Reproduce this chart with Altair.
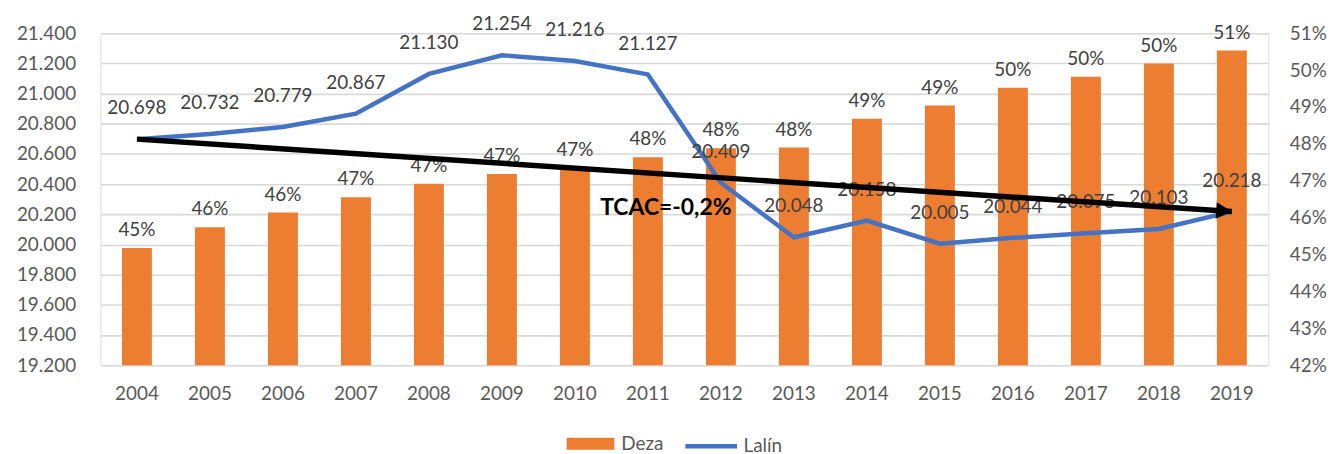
import altair as alt
import pandas as pd

# ---- data ----
years = [str(y) for y in range(2004, 2020)]
deza_share = [0.4518, 0.4574, 0.4614, 0.4655, 0.4692, 0.4718, 0.4734, 0.4764,
              0.4788, 0.4790, 0.4868, 0.4904, 0.4952, 0.4982, 0.5018, 0.5053]
lalin = [20698, 20732, 20779, 20867, 21130, 21254, 21216, 21127,
         20409, 20048, 20158, 20005, 20044, 20075, 20103, 20218]
left_ticks = [19200, 19400, 19600, 19800, 20000, 20200, 20400, 20600,
              20800, 21000, 21200, 21400]
right_ticks = [0.42, 0.43, 0.44, 0.45, 0.46, 0.47, 0.48, 0.49, 0.50, 0.51]
series_names = ["Deza", "Lalín"]
trend_label = "TCAC=-0,2%"
trend_label_year = "2011"
trend_label_value = 20240

ORANGE = "#ED7D31"
BLUE = "#4472C4"
AXIS_GRAY = "#595959"
LABEL_GRAY = "#404040"
FONT = "Lato"

df = pd.DataFrame({"year": years, "Deza": deza_share, "Lalin": lalin})
df["s1"] = series_names[0]
df["s2"] = series_names[1]

arrow_df = pd.DataFrame({"year": [years[0], years[-1]], "v": [lalin[0], lalin[-1]]})
head_df = arrow_df.tail(1)
tcac_df = pd.DataFrame({"year": [trend_label_year], "v": [trend_label_value], "t": [trend_label]})

x_enc = alt.X(
    "year:O", title=None,
    scale=alt.Scale(paddingInner=0.59, paddingOuter=0.295),
    axis=alt.Axis(labelAngle=0, ticks=False, domain=False, labelPadding=20,
                  labelFontSize=19, labelColor=AXIS_GRAY, labelFont=FONT),
)

right_scale = alt.Scale(domain=[0.42, 0.51], zero=False, nice=False)
left_scale = alt.Scale(domain=[19200, 21400], zero=False, nice=False)

right_axis = alt.Axis(orient="right", values=right_ticks,
                      labelExpr="format(datum.value, '.0%')",
                      grid=False, ticks=False, domain=False, labelPadding=21,
                      labelFontSize=19, labelColor=AXIS_GRAY, labelFont=FONT)
left_axis = alt.Axis(orient="left", values=left_ticks,
                     labelExpr="format(datum.value, ',')",
                     grid=True, gridColor="#D9D9D9", gridWidth=1.6,
                     ticks=False, domain=False, labelPadding=25,
                     labelFontSize=19, labelColor=AXIS_GRAY, labelFont=FONT)

base = alt.Chart(df)

bars = base.mark_bar(color=ORANGE, clip=True).encode(
    x=x_enc,
    y=alt.Y("Deza:Q", title=None, scale=right_scale, axis=right_axis),
    fill=alt.Fill("s1:N", scale=alt.Scale(domain=[series_names[0]], range=[ORANGE]),
                  legend=alt.Legend(title=None, orient="none", legendX=481, legendY=401,
                                    symbolType="M-2,-0.5H2V0.5H-2Z", symbolSize=576,
                                    symbolStrokeWidth=0, labelOffset=19,
                                    labelFontSize=19, labelColor=AXIS_GRAY, labelFont=FONT)),
)

bar_labels = base.mark_text(baseline="bottom", dy=-8, fontSize=19, color=LABEL_GRAY,
                            font=FONT).encode(
    x="year:O",
    y=alt.Y("Deza:Q", title=None, scale=right_scale, axis=right_axis),
    text=alt.Text("Deza:Q", format=".0%"),
)

line = base.mark_line(strokeWidth=4.5).encode(
    x="year:O",
    y=alt.Y("Lalin:Q", title=None, scale=left_scale, axis=left_axis),
    stroke=alt.Stroke("s2:N", scale=alt.Scale(domain=[series_names[1]], range=[BLUE]),
                      legend=alt.Legend(title=None, orient="none", legendX=586, legendY=387,
                                        symbolType="stroke", symbolSize=2704,
                                        symbolStrokeWidth=4.5, labelOffset=4,
                                        labelFontSize=19, labelColor=AXIS_GRAY, labelFont=FONT)),
)

line_labels = base.mark_text(baseline="bottom", dy=-21, fontSize=19, color=LABEL_GRAY,
                             font=FONT).encode(
    x="year:O",
    y=alt.Y("Lalin:Q", title=None, scale=left_scale, axis=left_axis),
    text=alt.Text("Lalin:Q", format=","),
)

arrow_line = alt.Chart(arrow_df).mark_line(color="black", strokeWidth=5.5, strokeCap="butt").encode(
    x="year:O",
    y=alt.Y("v:Q", title=None, scale=left_scale, axis=left_axis),
)

arrow_head = alt.Chart(head_df).mark_point(
    shape="M0,0L-2,-1.05L-2,1.05Z", size=250, angle=3.8, filled=True,
    color="black", opacity=1, strokeWidth=0,
).encode(
    x="year:O",
    y=alt.Y("v:Q", title=None, scale=left_scale, axis=left_axis),
)

tcac = alt.Chart(tcac_df).mark_text(fontSize=23, fontWeight="bold", color="black",
                                    font=FONT, align="center", baseline="middle",
                                    dx=18).encode(
    x="year:O",
    y=alt.Y("v:Q", title=None, scale=left_scale, axis=left_axis),
    text="t:N",
)

right_group = alt.layer(bars, bar_labels)
left_group = alt.layer(line, line_labels, arrow_line, arrow_head, tcac)

chart = alt.layer(right_group, left_group).resolve_scale(
    y="independent", fill="independent", stroke="independent"
).properties(
    width=1175, height=334,
    autosize=alt.AutoSizeParams(type="none"),
    padding={"left": 93, "top": 24, "right": 61, "bottom": 92},
).configure_view(stroke=None).configure(
    locale={"number": {"decimal": ",", "thousands": ".", "grouping": [3],
                       "currency": ["", " €"]}}
)

chart.save("out.html", embed_options={"renderer": "svg", "actions": False})
